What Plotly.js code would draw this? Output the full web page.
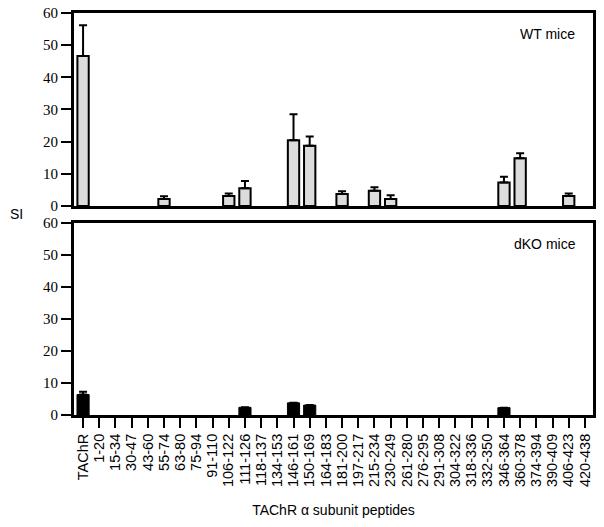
<!DOCTYPE html>
<html>
<head>
<meta charset="utf-8">
<script src="https://cdn.plot.ly/plotly-3.0.1.min.js"></script>
<style>html,body{margin:0;padding:0;background:#fff;}#chart{width:604px;height:527px;}</style>
</head>
<body>
<div id="chart"></div>
<script>
const peptides = ["TAChR","1-20","15-34","30-47","43-60","55-74","63-80","75-94","91-110","106-122","111-126","118-137","134-153","146-161","150-169","164-183","181-200","197-217","215-234","230-249","261-280","276-295","291-308","304-322","318-336","332-350","346-364","360-378","374-394","390-409","406-423","420-438"];
const wtSI =    [46.6,null,null,null,null,2.2,null,null,null,3.1,5.5,null,null,20.4,18.7,null,3.7,null,4.7,2.2,null,null,null,null,null,null,7.3,14.8,null,null,3.1,null];
const wtErr =   [9.6,0,0,0,0,0.8,0,0,0,0.8,2.3,0,0,8.1,2.9,0,0.9,0,1.1,1.1,0,0,0,0,0,0,1.8,1.6,0,0,0.8,0];
const dkoSI =   [6.4,null,null,null,null,null,null,null,null,null,2.4,null,null,3.8,3.1,null,null,null,null,null,null,null,null,null,null,null,2.3,null,null,null,null,null];
const dkoErr =  [0.9,0,0,0,0,0,0,0,0,0,0,0,0,0,0,0,0,0,0,0,0,0,0,0,0,0,0,0,0,0,0,0];
const yTicks = [0,10,20,30,40,50,60];

const SERIF = "'Liberation Serif', 'Times New Roman', serif";
const SANS = "'Liberation Sans', Arial, sans-serif";

const traces = [
  {type:'bar', x:peptides, y:wtSI, xaxis:'x', yaxis:'y', width:0.7,
   marker:{color:'#dcdcdc', line:{color:'#000', width:2}},
   error_y:{type:'data', symmetric:false, array:wtErr, arrayminus:wtErr.map(()=>0), color:'#000', thickness:2, width:4},
   hoverinfo:'x+y', showlegend:false},
  {type:'bar', x:peptides, y:dkoSI, xaxis:'x2', yaxis:'y2', width:0.75,
   marker:{color:'#000', line:{color:'#000', width:1}},
   error_y:{type:'data', symmetric:false, array:dkoErr, arrayminus:dkoErr.map(()=>0), color:'#000', thickness:2, width:4},
   hoverinfo:'x+y', showlegend:false}
];

const xRange = [-0.56, 31.5];
function yAxis(domain, anchor) {
  return {domain:domain, anchor:anchor, range:[0,60], tickmode:'array', tickvals:yTicks, ticktext:yTicks.map(String),
    ticks:'outside', ticklen:10, tickwidth:2, tickcolor:'#000',
    showline:true, linewidth:3, linecolor:'#000', mirror:true, showgrid:false, zeroline:false,
    tickfont:{family:SERIF, size:15, color:'#000'}, fixedrange:true};
}

const layout = {
  width:604, height:527,
  margin:{l:74, r:11, t:13, b:112},
  paper_bgcolor:'#fff', plot_bgcolor:'#fff',
  font:{family:SANS, color:'#000'},
  xaxis:{domain:[0,1], anchor:'y', type:'category', categoryorder:'array', categoryarray:peptides, range:xRange,
    showticklabels:false, ticks:'', showline:true, linewidth:3, linecolor:'#000', mirror:true, showgrid:false, zeroline:false, fixedrange:true},
  yaxis:yAxis([0.52,1], 'x'),
  xaxis2:{domain:[0,1], anchor:'y2', type:'category', categoryorder:'array', categoryarray:peptides, range:xRange,
    tickmode:'array', tickvals:peptides, ticktext:peptides,
    ticks:'outside', ticklen:10, tickwidth:2, tickcolor:'#000', tickangle:-90,
    tickfont:{family:SANS, size:14.5, color:'#000'},
    showline:true, linewidth:3, linecolor:'#000', mirror:true, showgrid:false, zeroline:false, fixedrange:true,
    title:{text:'TAChR \u03b1 subunit peptides', font:{family:SANS, size:14, color:'#000'}, standoff:20}},
  yaxis2:yAxis([0,0.4776], 'x2'),
  annotations:[
    {text:'SI', xref:'paper', yref:'paper', x:-0.11, y:0.5, xanchor:'center', yanchor:'middle', showarrow:false,
     font:{family:SANS, size:14, color:'#000'}},
    {text:'WT mice', xref:'paper', yref:'paper', x:0.969, y:0.972, xanchor:'right', yanchor:'top', showarrow:false,
     font:{family:SANS, size:14, color:'#000'}},
    {text:'dKO mice', xref:'paper', yref:'paper', x:0.971, y:0.45, xanchor:'right', yanchor:'top', showarrow:false,
     font:{family:SANS, size:14, color:'#000'}}
  ]
};

Plotly.newPlot('chart', traces, layout, {displayModeBar:false, staticPlot:true});
</script>
</body>
</html>
